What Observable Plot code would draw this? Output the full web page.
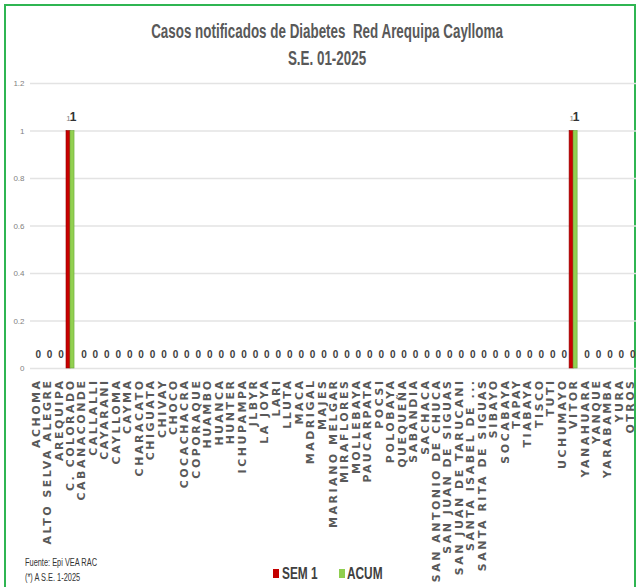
<!DOCTYPE html>
<html><head><meta charset="utf-8">
<script src="https://cdn.jsdelivr.net/npm/d3@7"></script>
<script src="https://cdn.jsdelivr.net/npm/@observablehq/plot@0.6"></script>
<style>
body{margin:0;background:#fff;}
#wrap{position:relative;width:639px;height:587px;overflow:hidden;background:#fff;}
#frame{position:absolute;left:4px;top:4px;width:632px;height:620px;border:2px solid #2fb552;box-sizing:border-box;}
.narrow{font-family:"Liberation Sans Narrow","Arial Narrow","Liberation Sans",sans-serif;}
#title{position:absolute;left:7px;width:640px;top:0;height:70px;text-align:center;color:#595959;font-weight:bold;}
#title div{white-space:nowrap;transform:scaleX(0.67);transform-origin:50% 50%;}
#t1{position:absolute;top:20px;left:0;width:100%;font-size:20px;line-height:22px;}
#t2{position:absolute;top:47px;left:0;width:100%;font-size:20px;line-height:22px;}
#chart{position:absolute;left:0;top:70px;}
.lg{position:absolute;font-size:16px;font-weight:bold;color:#404040;white-space:nowrap;line-height:18px;transform:scaleX(0.74);transform-origin:0 50%;}
.sw{position:absolute;width:6px;height:9px;}
.ft{position:absolute;left:25px;font-size:10px;color:#333;line-height:12px;white-space:nowrap;transform:scaleX(0.74);transform-origin:0 50%;}
svg g[aria-label="x-axis tick label"] text{letter-spacing:2.5px;}
</style>
</head><body>
<div id="wrap">
  <div id="frame"></div>
  <div id="title" class="narrow"><div id="t1">Casos notificados de Diabetes&nbsp; Red Arequipa Caylloma</div><div id="t2">S.E. 01-2025</div></div>
  <div id="chart"></div>
  <div class="ft narrow" style="top:557px">Fuente: Epi VEA RAC</div>
  <div class="ft narrow" style="top:572px">(*) A S.E. 1-2025</div>
  <div class="sw" style="left:273px;top:569px;background:#c40000"></div>
  <div class="lg narrow" style="left:282px;top:565px">SEM 1</div>
  <div class="sw" style="left:339px;top:569px;background:#8fce4f"></div>
  <div class="lg narrow" style="left:347px;top:565px">ACUM</div>
</div>
<script>
const categories = ["ACHOMA","ALTO SELVA ALEGRE","AREQUIPA","C. COLORADO","CABANACONDE","CALLALLI","CAYARANI","CAYLLOMA","CAYMA","CHARACATO","CHIGUATA","CHIVAY","CHOCO","COCACHACRA","COPORAQUE","HUAMBO","HUANCA","HUNTER","ICHUPAMPA","JLBYR","LA JOYA","LARI","LLUTA","MACA","MADRIGAL","MAJES","MARIANO MELGAR","MIRAFLORES","MOLLEBAYA","PAUCARPATA","POCSI","POLOBAYA","QUEQUEÑA","SABANDIA","SACHACA","SAN ANTONIO DE CHUCA","SAN JUAN DE SIGUAS","SAN JUAN DE TARUCANI","SANTA ISABEL DE ...","SANTA RITA DE SIGUAS","SIBAYO","SOCABAYA","TAPAY","TIABAYA","TISCO","TUTI","UCHUMAYO","VITOR","YANAHUARA","YANQUE","YARABAMBA","YURA","OTROS"];
const sem1 = [0,0,0,1,0,0,0,0,0,0,0,0,0,0,0,0,0,0,0,0,0,0,0,0,0,0,0,0,0,0,0,0,0,0,0,0,0,0,0,0,0,0,0,0,0,0,0,1,0,0,0,0,0];
const acum = [0,0,0,1,0,0,0,0,0,0,0,0,0,0,0,0,0,0,0,0,0,0,0,0,0,0,0,0,0,0,0,0,0,0,0,0,0,0,0,0,0,0,0,0,0,0,0,1,0,0,0,0,0];
const yTicks = [0,0.2,0.4,0.6,0.8,1,1.2];

const rows = categories.map((c,i)=>({cat:c, sem:sem1[i], acum:acum[i]}));
const narrow = '"Liberation Sans Narrow","Arial Narrow","Liberation Sans",sans-serif';

const chart = Plot.plot({
  width: 639,
  height: 517,
  marginTop: 13,
  marginBottom: 219,
  marginLeft: 30,
  marginRight: 3,
  style: {background: "transparent", overflow: "visible"},
  x: {domain: categories, padding: 0, round: false, label: null},
  y: {domain: [0, 1.2], label: null},
  marks: [
    Plot.gridY(yTicks, {stroke: "#e3e3e3", strokeOpacity: 1, strokeWidth: 1.5}),
    Plot.axisY(yTicks, {tickSize: 0, tickPadding: 6, label: null, tickFormat: d => String(+d.toFixed(1)), fontSize: 8, fontFamily: narrow, fill: "#7f7f7f"}),
    Plot.axisX({tickSize: 0, tickPadding: 10, tickRotate: -90, label: null, fontSize: 11, fontWeight: "bold", fontFamily: "DejaVu Sans", fill: "#595959"}),
    Plot.barY(rows, {x: "cat", y: "sem", fill: "#c80000", stroke: "#8e0000", strokeWidth: 0.6, insetLeft: 1.7, insetRight: 5.7}),
    Plot.barY(rows, {x: "cat", y: "acum", fill: "#92d050", stroke: "#6aa83a", strokeWidth: 0.6, insetLeft: 5.7, insetRight: 1.7}),
    Plot.text(rows.filter(d => d.acum === 0), {x: "cat", y: "acum", text: d => String(d.acum), dx: 2, dy: -14, fontSize: 10, fontWeight: "bold", fontFamily: narrow, fill: "#404040"}),
    Plot.text(rows.filter(d => d.sem > 0), {x: "cat", y: "sem", text: d => String(d.sem), dx: -2, dy: -13, fontSize: 8, fontFamily: narrow, fill: "#7f7f7f"}),
    Plot.text(rows.filter(d => d.acum > 0), {x: "cat", y: "acum", text: d => String(d.acum), dx: 2.5, dy: -14, fontSize: 12, fontWeight: "bold", fontFamily: narrow, fill: "#333"})
  ]
});
document.getElementById("chart").appendChild(chart);
</script>
</body></html>
